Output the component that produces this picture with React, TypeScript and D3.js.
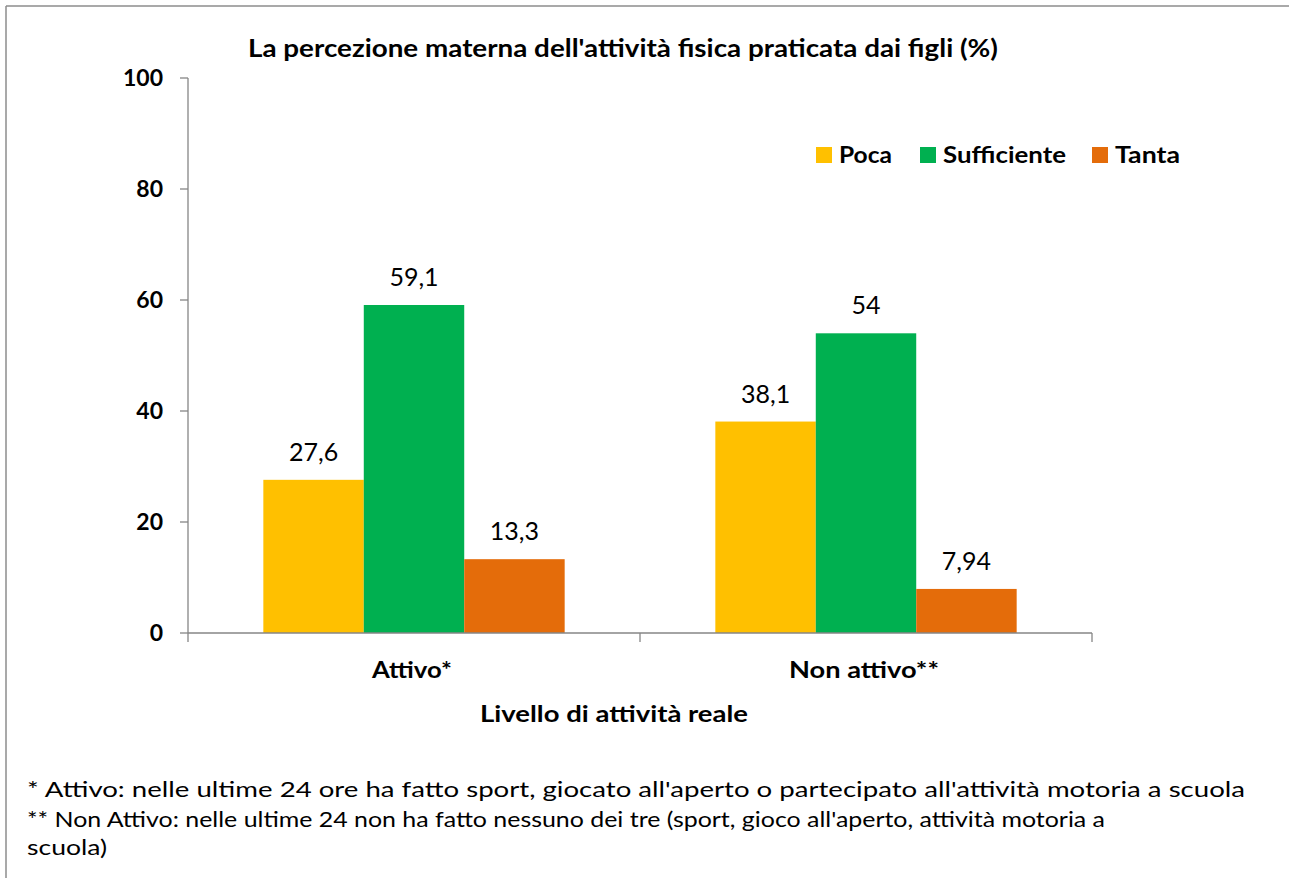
import React from "react";
import * as d3 from "d3";

const categories = ["Attivo*", "Non attivo**"];
const seriesNames = ["Poca", "Sufficiente", "Tanta"];
const poca = [27.6, 38.1];
const sufficiente = [59.1, 54];
const tanta = [13.3, 7.94];
const labelsPoca = ["27,6", "38,1"];
const labelsSuff = ["59,1", "54"];
const labelsTanta = ["13,3", "7,94"];
const colors = ["#FFC000", "#00B050", "#E46C0A"];
const yTicks = [0, 20, 40, 60, 80, 100];

const title = "La percezione materna dell'attività fisica praticata dai figli (%)";
const xTitle = "Livello di attività reale";
const notes = [
  "* Attivo: nelle ultime 24 ore ha fatto sport, giocato all'aperto o partecipato all'attività motoria a scuola",
  "** Non Attivo: nelle ultime 24 non ha fatto nessuno dei tre (sport, gioco all'aperto, attività motoria a",
  "scuola)",
];

const W = 1289;
const H = 878;
const FONT = "Lato, 'Open Sans', sans-serif";

export default function App() {
  const x0 = d3.scaleBand<string>().domain(categories).range([188, 1092]).padding(0);
  const x1 = d3
    .scaleBand<string>()
    .domain(seriesNames)
    .range([0, x0.bandwidth()])
    .paddingInner(0)
    .paddingOuter(0.75);
  const y = d3.scaleLinear().domain([0, 100]).range([633, 78]);

  const values = [poca, sufficiente, tanta];
  const labels = [labelsPoca, labelsSuff, labelsTanta];
  const axisColor = "#868686";
  const catWidths = [80, 150];

  const legendItems = [
    { name: "Poca", sq: 816, tx: 839, w: 53 },
    { name: "Sufficiente", sq: 920, tx: 943, w: 123 },
    { name: "Tanta", sq: 1092, tx: 1115, w: 65 },
  ];

  return (
    <svg
      width={W}
      height={H}
      style={{ position: "absolute", left: 0, top: 0, background: "#fff" }}
      fontFamily={FONT}
    >
      <rect x={0} y={0} width={W} height={H} fill="#fff" />
      {/* outer border (left & top visible) */}
      <line x1={6} y1={6} x2={W + 5} y2={6} stroke="#8c8c8c" strokeWidth={1.5} />
      <line x1={6} y1={6} x2={6} y2={H + 5} stroke="#8c8c8c" strokeWidth={1.5} />

      <text x={623} y={57} textAnchor="middle" fontWeight="bold" fontSize={25} textLength={750} lengthAdjust="spacingAndGlyphs" fill="#000">
        {title}
      </text>

      {/* bars */}
      {categories.map((c, ci) =>
        seriesNames.map((s, si) => {
          const v = values[si][ci];
          const bx = (x0(c) as number) + (x1(s) as number);
          return (
            <g key={c + s}>
              <rect x={bx} y={y(v)} width={x1.bandwidth()} height={y(0) - y(v)} fill={colors[si]} />
              <text x={bx + x1.bandwidth() / 2} y={y(v) - 19} textAnchor="middle" fontSize={25} fill="#000">
                {labels[si][ci]}
              </text>
            </g>
          );
        })
      )}

      {/* y axis */}
      <line x1={188} y1={y(100)} x2={188} y2={y(0)} stroke={axisColor} strokeWidth={1.3} />
      {yTicks.map((t) => (
        <g key={t}>
          <line x1={180} x2={188} y1={y(t)} y2={y(t)} stroke={axisColor} strokeWidth={1.3} />
          <text x={163} y={y(t) + 8} textAnchor="end" fontWeight="bold" fontSize={23} fill="#000">
            {t}
          </text>
        </g>
      ))}

      {/* x axis */}
      <line x1={188} y1={y(0)} x2={1092} y2={y(0)} stroke={axisColor} strokeWidth={1.3} />
      {[188, ...categories.map((c) => (x0(c) as number) + x0.bandwidth())].map((tx, i) => (
        <line key={i} x1={tx} x2={tx} y1={y(0)} y2={y(0) + 9} stroke={axisColor} strokeWidth={1.3} />
      ))}
      {categories.map((c, i) => (
        <text key={c} x={(x0(c) as number) + x0.bandwidth() / 2 - 2} y={678} textAnchor="middle" fontWeight="bold" fontSize={23} textLength={catWidths[i]} lengthAdjust="spacingAndGlyphs" fill="#000">
          {c}
        </text>
      ))}
      <text x={614} y={722} textAnchor="middle" fontWeight="bold" fontSize={22} textLength={268} lengthAdjust="spacingAndGlyphs" fill="#000">
        {xTitle}
      </text>

      {/* legend */}
      {legendItems.map((it, i) => (
        <g key={it.name}>
          <rect x={it.sq} y={147} width={16} height={16} fill={colors[i]} />
          <text x={it.tx} y={163} fontWeight="bold" fontSize={22} textLength={it.w} lengthAdjust="spacingAndGlyphs" fill="#000">
            {it.name}
          </text>
        </g>
      ))}

      {/* footnotes */}
      <text x={27} y={797} fontSize={21} fill="#000" textLength={1218} lengthAdjust="spacingAndGlyphs">{notes[0]}</text>
      <text x={27} y={827} fontSize={21} fill="#000" textLength={1078} lengthAdjust="spacingAndGlyphs">{notes[1]}</text>
      <text x={27} y={855} fontSize={21} fill="#000" textLength={80} lengthAdjust="spacingAndGlyphs">{notes[2]}</text>
    </svg>
  );
}
